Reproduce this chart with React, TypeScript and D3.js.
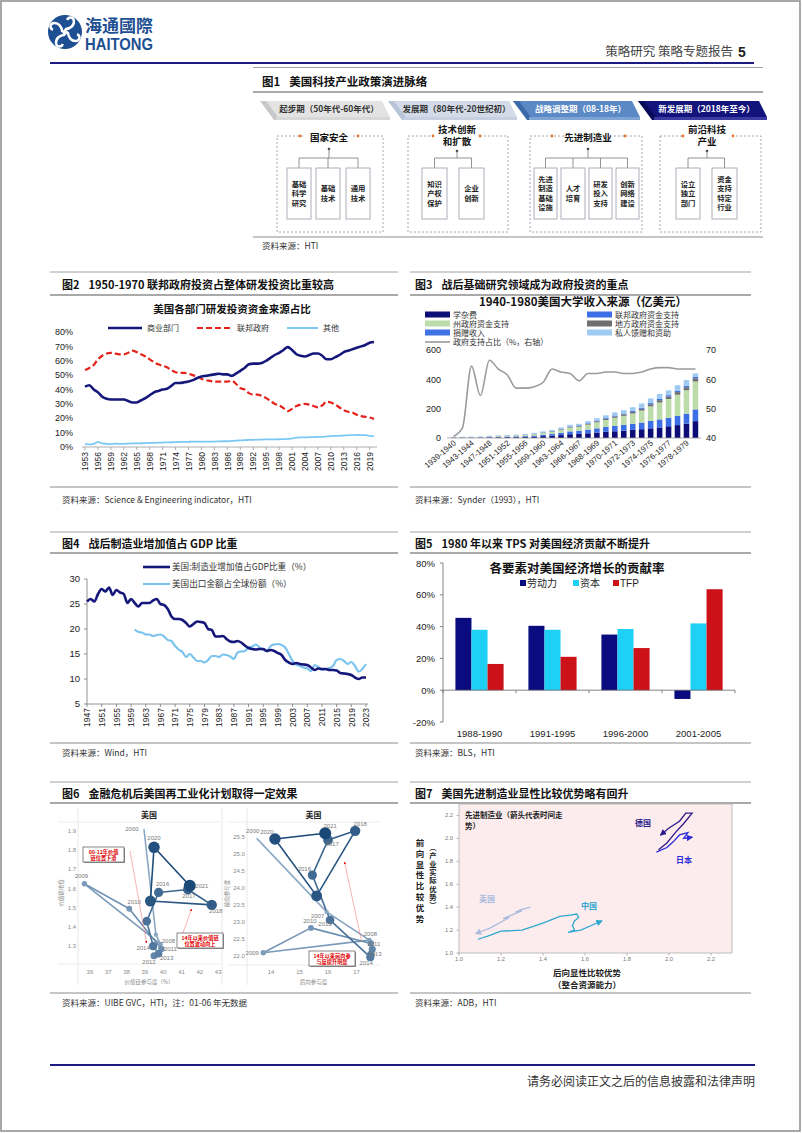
import React from 'react';
import * as d3 from 'd3';

const CN = "'Noto Sans CJK SC', 'Noto Sans', sans-serif";
const AR = "'Liberation Sans', Arial, sans-serif";
const NAVY = '#15187a';

// ---------------- Figure 1 ----------------
const fig1Phases = ['起步期（50年代-60年代）', '发展期（80年代-20世纪初）', '战略调整期（08-18年）', '新发展期（2018年至今）'];
const fig1Heads = [['国家安全'], ['技术创新', '和扩散'], ['先进制造业'], ['前沿科技', '产业']];
const fig1Items = [
  [['基础', '科学', '研究'], ['基础', '技术'], ['通用', '技术']],
  [['知识', '产权', '保护'], ['企业', '创新']],
  [['先进', '制造', '基础', '设施'], ['人才', '培育'], ['研发', '投入', '支持'], ['创新', '网络', '建设']],
  [['设立', '独立', '部门'], ['资金', '支持', '特定', '行业']],
];

// ---------------- Figure 2 ----------------
const fig2Start = 1953;
const fig2Business = [
  42, 43, 40, 38, 35, 33.5, 33,
  33, 33, 33, 32, 31, 31, 32.5, 34, 36, 38,
  39, 40, 40.5, 42.5, 44.5, 44.5, 45, 45.5, 46.5, 48,
  49, 49.5, 50, 50.5, 51, 50.5, 50.5, 49.5, 51, 53,
  55, 57.5, 58, 58, 58.5, 60, 62, 64, 65.5, 67.5,
  69.5, 67.5, 64.5, 63.5, 63, 64, 65, 65, 63.5, 61,
  61, 62.5, 64, 66, 67, 68, 69, 70, 71, 72.5, 73,
];
const fig2Federal = [
  53.5, 55, 57, 61, 63.5, 65, 65.5,
  65, 64.5, 64.5, 65.5, 67, 66, 64.5, 63, 61, 59,
  57.5, 56.5, 55.5, 53.5, 52, 51.5, 51.5, 51, 50, 49,
  47.5, 46.5, 46, 45.5, 45.5, 45.5, 45.5, 46, 44, 41,
  40, 37.5, 36.5, 36.5, 35.5, 34, 32, 30, 29, 27,
  25, 26.5, 28.5, 29.5, 30, 29.5, 28.5, 27.5, 29, 31.5,
  31, 29.5, 27.5, 25.5, 24.5, 24, 22.5, 21.5, 21, 20.5, 19.5,
];
const fig2Other = [
  2, 1.8, 2.2, 3.5, 2.5, 2.2, 2,
  2.3, 2.2, 2.2, 2.4, 2.5, 2.5, 2.6, 2.7, 2.8, 2.9,
  3, 3.1, 3.2, 3.3, 3.4, 3.5, 3.5, 3.6, 3.7, 3.7,
  3.8, 3.8, 3.8, 3.8, 3.9, 4, 4, 4.2, 4.4, 4.6,
  4.8, 4.9, 5, 5.1, 5.2, 5.3, 5.3, 5.3, 5.4, 5.5,
  5.6, 6, 6.5, 6.7, 6.7, 6.8, 6.9, 7, 7, 7.4,
  7.6, 7.7, 7.8, 8, 8.1, 8.3, 8.4, 8.3, 8.2, 7.8, 7.5,
];

// ---------------- Figure 3 ----------------
const fig3Cats = [
  '1939-1940', '1941-1942', '1943-1944', '1945-1946', '1947-1948', '1949-1950', '1951-1952',
  '1953-1954', '1955-1956', '1957-1958', '1959-1960', '1961-1962', '1963-1964', '1965-1966',
  '1966-1967', '1967-1968', '1968-1969', '1969-1970', '1970-1971', '1971-1972', '1972-1973',
  '1973-1974', '1974-1975', '1975-1976', '1976-1977', '1977-1978', '1978-1979', '1979-1980',
];
const fig3Tuition = [2, 2, 2, 3, 4, 5, 6, 6, 8, 10, 13, 16, 20, 26, 28, 32, 37, 42, 46, 50, 55, 60, 66, 72, 80, 88, 98, 115];
const fig3Federal = [1, 1, 2, 2, 3, 3, 4, 5, 5, 7, 9, 11, 15, 19, 21, 25, 29, 33, 36, 39, 42, 45, 50, 55, 58, 62, 68, 80];
const fig3State = [2, 2, 2, 2, 4, 5, 5, 6, 8, 10, 13, 16, 21, 26, 28, 34, 41, 48, 56, 62, 70, 82, 100, 115, 128, 145, 160, 190];
const fig3Local = [0, 0, 0, 0, 1, 1, 1, 1, 1, 2, 2, 3, 4, 5, 5, 6, 7, 8, 9, 10, 11, 12, 14, 16, 17, 18, 20, 22];
const fig3Endow = [1, 1, 1, 1, 1, 1, 1, 1, 2, 2, 2, 2, 3, 3, 4, 4, 5, 5, 6, 6, 7, 7, 8, 8, 9, 10, 10, 11];
const fig3Private = [1, 2, 2, 2, 2, 3, 3, 3, 3, 4, 6, 7, 9, 11, 11, 14, 16, 19, 22, 23, 25, 29, 32, 34, 33, 37, 39, 22];
const fig3GovShare = [40.5, 43.5, 64.5, 54.5, 66.5, 63.5, 61.5, 57, 57, 57.5, 59, 63.5, 62.5, 62, 59.5, 62, 62, 62.5, 62.5, 62, 62, 62.5, 63.5, 64, 64, 63.5, 63.5, 63.5];
const fig3Keys = ['tuition', 'federal', 'state', 'local', 'endow', 'private'];
const fig3Names = ['学杂费', '联邦政府资金支持', '州政府资金支持', '地方政府资金支持', '捐赠收入', '私人馈赠和资助'];
const fig3Colors = ['#0d0d78', '#3c6fe6', '#bcdcaa', '#6f6f6f', '#3f72e2', '#9fcbf3'];

// ---------------- Figure 4 ----------------
const fig4Start = 1947;
const fig4Mfg = [
  25.5, 26, 25.5,
  27, 28, 27.5, 28.3, 26.8, 27.8, 27.3, 27, 25.2, 26,
  25.2, 24.5, 25.2, 25.2, 25.2, 25.7, 26, 25, 24.8, 24,
  22.5, 22, 22, 21.8, 21.2, 20.5, 21, 21.5, 21.4, 21.2,
  20, 19.8, 18.5, 18.5, 18.6, 18, 17.5, 17.4, 17.6, 17.3,
  16.7, 16.2, 16, 15.9, 16, 16, 15.6, 15.8, 15.6, 15.2,
  14.8, 13.8, 13.3, 13, 13.2, 13, 12.9, 12.8, 12.3, 11.8,
  12.1, 12, 12, 11.8, 11.8, 11.7, 11.2, 11.1, 11, 10.8,
  10.3, 10, 10.3, 10.3,
];
const fig4ExportStart = 1960;
const fig4Export = [
  19.9, 19.4, 19.3, 18.9, 18.9, 18.6, 18.8, 18.9, 18.5, 17.8,
  17.6, 16.6, 15.9, 15.4, 14.4, 15, 14.3, 13.6, 13.6, 13.3,
  13.8, 14.6, 14.6, 14.4, 14.9, 14.8, 14.5, 14, 15.3, 15.5,
  15.6, 16.3, 16.5, 16.9, 16.3, 15.8, 15.6, 16.6, 16.9, 17,
  16.8, 16.3, 15, 13.6, 12.9, 12.6, 12.3, 12.1, 11.6, 12.8,
  12.4, 11.8, 12, 12.2, 12.6, 13.8, 14, 13.6, 13, 13.4,
  12.6, 11.5, 12, 13,
];

// ---------------- Figure 5 ----------------
const fig5Periods = ['1988-1990', '1991-1995', '1996-2000', '2001-2005'];
const fig5Labor = [45.5, 40.5, 35, -5.5];
const fig5Capital = [38, 38, 38.5, 42];
const fig5TFP = [16.5, 21, 26.5, 63.5];
const fig5Names = ['劳动力', '资本', 'TFP'];
const fig5Colors = ['#0b0b80', '#1fd0f5', '#cc1218'];

// ---------------- Figure 6 ----------------
const fig6Years = [2000, 2007, 2008, 2009, 2010, 2011, 2012, 2013, 2014, 2015, 2016, 2017, 2018, 2019, 2020, 2021];
const fig6LeftX = [38.95, 39.6, 39.85, 35.7, 38.15, 39.9, 39.5, 39.75, 39.45, 39.1, 39.75, 41.35, 42.65, 39.3, 39.5, 41.45];
const fig6LeftY = [1.91, 1.36, 1.31, 1.625, 1.495, 1.285, 1.25, 1.26, 1.30, 1.43, 1.58, 1.595, 1.515, 1.535, 1.815, 1.615];
const fig6RightX = [13.5, 15.95, 17.45, 13.73, 15.4, 17.5, 17.55, 17.5, 17.48, 16.07, 15.45, 16.0, 16.95, 15.6, 14.14, 15.9];
const fig6RightY = [25.46, 23.3, 22.47, 22.1, 22.83, 22.37, 22.2, 22.05, 21.97, 23.06, 24.38, 25.41, 25.68, 23.77, 25.44, 25.61];
const fig6LeftLabeled = [2000, 2008, 2009, 2010, 2011, 2012, 2013, 2014, 2016, 2017, 2018, 2020, 2021];
const fig6RightLabeled = [2000, 2007, 2008, 2009, 2010, 2011, 2013, 2014, 2015, 2016, 2017, 2018, 2020, 2021];

// ---------------- Figure 7 ----------------
const fig7US = [[1.34, 1.40], [1.30, 1.38], [1.27, 1.36], [1.30, 1.37], [1.25, 1.33], [1.21, 1.30], [1.24, 1.31], [1.15, 1.22], [1.08, 1.17]];
const fig7China = [[1.09, 1.12], [1.14, 1.15], [1.2, 1.19], [1.3, 1.2], [1.4, 1.26], [1.48, 1.32], [1.53, 1.33], [1.56, 1.34], [1.57, 1.31], [1.55, 1.28], [1.54, 1.24], [1.55, 1.2], [1.52, 1.18], [1.58, 1.2], [1.63, 1.24], [1.68, 1.28]];
const fig7Germany = [[1.95, 1.90], [1.99, 1.96], [2.03, 2.05], [2.07, 2.13], [2.11, 2.22], [2.08, 2.22], [2.05, 2.15], [2.0, 2.09], [1.96, 2.03]];
const fig7Japan = [[1.94, 1.88], [1.99, 1.92], [2.02, 1.97], [2.05, 2.03], [2.09, 2.05], [2.07, 2.0], [2.11, 2.01]];
const fig7Ticks = [1.0, 1.2, 1.4, 1.6, 1.8, 2.0, 2.2];

// ============ components ============
function Frame({ x0, x1, top, title, titleNo, titleY, under, bottom, source, sourceY, tx, size = 11 }: any) {
  return (
    <g>
      <line x1={x0} x2={x1} y1={top} y2={top} stroke="#a0a0a0" strokeWidth={1} />
      <text x={tx} y={titleY} fontFamily={CN} fontWeight={700} fontSize={size} fill="#111">
        {titleNo}
        <tspan dx={9}>{title}</tspan>
      </text>
      <line x1={x0} x2={x1} y1={under} y2={under} stroke="#8c8c8c" strokeWidth={1.6} />
      <line x1={x0} x2={x1} y1={bottom} y2={bottom} stroke="#8c8c8c" strokeWidth={1.2} />
      <text x={tx} y={sourceY} fontFamily={CN} fontSize={8.5} fill="#333">{source}</text>
    </g>
  );
}

function Header() {
  const arms = [0, 90, 180, 270];
  return (
    <g>
      <g transform="translate(65,32)">
        <circle r={17} fill="#1d4f92" />
        {arms.map((a) => (
          <g key={a} transform={`rotate(${a})`}>
            <path d="M0,-2.8 C5.5,-3.2 9.8,-6.5 8.8,-12 C7.8,-15.3 3.3,-15.3 2.2,-12" fill="none" stroke="#fff" strokeWidth={2.5} />
          </g>
        ))}
        <rect x={-2.4} y={-2.4} width={4.8} height={4.8} fill="#fff" transform="rotate(45)" />
      </g>
      <text x={85} y={32} fontFamily={CN} fontWeight={700} fontSize={17} fill="#1d4f92">海通國際</text>
      <text x={85} y={50} fontFamily={AR} fontWeight={700} fontSize={16.5} fill="#1d4f92" textLength={68} lengthAdjust="spacingAndGlyphs">HAITONG</text>
      <text x={733} y={56} textAnchor="end" fontFamily={CN} fontSize={12.5} fill="#444">策略研究 策略专题报告</text>
      <text x={738} y={57} fontFamily={AR} fontWeight={700} fontSize={14} fill="#222">5</text>
      <line x1={50} x2={754} y1={63} y2={63} stroke="#1b1b82" strokeWidth={2.2} />
    </g>
  );
}

function Footer() {
  return (
    <g>
      <line x1={50} x2={755} y1={1065} y2={1065} stroke="#1b1b82" strokeWidth={2.2} />
      <text x={755} y={1086} textAnchor="end" fontFamily={CN} fontSize={12} fill="#333">请务必阅读正文之后的信息披露和法律声明</text>
    </g>
  );
}

function Fig1() {
  const banners = [[260, 390], [388, 517], [513, 640], [638, 767]];
  const fills = ['#e3e3e3', '#d3dbe8', '#5b89c6', '#13137c'];
  const stripes = ['#c8c8c8', '#b8c4d8', '#3c6aa8', '#0a0a5a'];
  const under = ['#d8d8d8', '#c6d0e0', '#7fa4d4', '#3a3aa0'];
  const txtCol = ['#333', '#333', '#fff', '#fff'];
  const boxes = [[277, 383], [408, 508], [530, 642], [660, 761]];
  const centers = [329, 457, 588, 707];
  const subs = [
    [[287, 311], [316, 340], [346, 370]],
    [[422, 447], [459, 484]],
    [[534, 557], [561, 585], [589, 612], [616, 639]],
    [[676, 700], [712, 737]],
  ];
  const dots = [[300, 358], [433, 480], [552, 625], [683, 733]];
  const y0 = 101, y1 = 117;
  return (
    <g>
      {banners.map(([a, b], i) => (
        <g key={i}>
          <polygon points={`${a},${y0} ${b - 8},${y0} ${b},${y1} ${a + 14},${y1}`} fill={fills[i]} />
          <polygon points={`${a},${y0} ${a + 6},${y0} ${a + 20},${y1 + 3} ${a + 14},${y1 + 3}`} fill={stripes[i]} />
          <rect x={a + 16} y={y1} width={b - a - 16} height={3} fill={under[i]} />
          <text x={(a + b) / 2 + 4} y={y0 + 11} textAnchor="middle" fontFamily={CN} fontWeight={700} fontSize={8.5} fill={txtCol[i]}>{fig1Phases[i]}</text>
        </g>
      ))}
      {boxes.map(([a, b], i) => {
        const heads = fig1Heads[i];
        const cx = centers[i];
        const dotY = heads.length > 1 ? 151 : 149;
        const s = subs[i];
        return (
          <g key={'b' + i}>
            <rect x={a} y={136} width={b - a} height={96} fill="none" stroke="#8d8da0" strokeWidth={0.8} strokeDasharray="2,2" />
            <rect x={cx - 24} y={heads.length > 1 ? 124 : 131} width={48} height={heads.length > 1 ? 22 : 11} fill="#fff" />
            {heads.map((h, k) => (
              <text key={k} x={cx} y={(heads.length > 1 ? 133 + k * 12 : 140.5)} textAnchor="middle" fontFamily={CN} fontWeight={700} fontSize={9.5} fill="#111">{h}</text>
            ))}
            {dots[i].map((dx, k) => (
              <circle key={k} cx={dx} cy={136} r={1.4} fill="#e8772e" />
            ))}
            <circle cx={cx} cy={dotY} r={1.3} fill="#444" />
            <line x1={cx} x2={cx} y1={dotY} y2={158} stroke="#777" strokeWidth={0.8} />
            <line x1={(s[0][0] + s[0][1]) / 2} x2={(s[s.length - 1][0] + s[s.length - 1][1]) / 2} y1={158} y2={158} stroke="#777" strokeWidth={0.8} />
            {s.map(([sa, sb], k) => {
              const rows = fig1Items[i][k];
              const mid = (sa + sb) / 2;
              return (
                <g key={k}>
                  <line x1={mid} x2={mid} y1={158} y2={168} stroke="#777" strokeWidth={0.8} />
                  <rect x={sa} y={168} width={sb - sa} height={51} fill="#fff" stroke="#9a9aa8" strokeWidth={0.8} />
                  {rows.map((r, ri) => (
                    <text key={ri} x={mid} y={193.5 + (ri - (rows.length - 1) / 2) * 9.5 + 2.6} textAnchor="middle" fontFamily={CN} fontWeight={700} fontSize={7.3} fill="#222">{r}</text>
                  ))}
                </g>
              );
            })}
          </g>
        );
      })}
    </g>
  );
}

function Fig2() {
  const x = d3.scaleLinear().domain([1953, 2020]).range([85, 374]);
  const y = d3.scaleLinear().domain([0, 80]).range([447, 332]);
  const mk = (vals: number[]) =>
    d3.line<number>().x((_, i) => x(fig2Start + i)).y((v) => y(v)).curve(d3.curveMonotoneX)(vals) as string;
  const yTicks = d3.range(0, 81, 10);
  const xTicks = d3.range(1953, 2020, 3);
  return (
    <g>
      <text x={232} y={313} textAnchor="middle" fontFamily={CN} fontWeight={700} fontSize={10.5} fill="#111">美国各部门研发投资资金来源占比</text>
      <line x1={108} x2={142} y1={328} y2={328} stroke={NAVY} strokeWidth={2.6} />
      <text x={147} y={331} fontFamily={CN} fontSize={8} fill="#333">商业部门</text>
      <line x1={197} x2={232} y1={328} y2={328} stroke="#e3231c" strokeWidth={2.2} strokeDasharray="6,3" />
      <text x={237} y={331} fontFamily={CN} fontSize={8} fill="#333">联邦政府</text>
      <line x1={287} x2={318} y1={328} y2={328} stroke="#7cc8f4" strokeWidth={2} />
      <text x={323} y={331} fontFamily={CN} fontSize={8} fill="#333">其他</text>
      {yTicks.map((t) => (
        <text key={t} x={73} y={y(t) + 3.2} textAnchor="end" fontFamily={AR} fontSize={9} fill="#222">{t}%</text>
      ))}
      <line x1={82} x2={377} y1={y(0)} y2={y(0)} stroke="#999" strokeWidth={0.8} />
      {xTicks.map((t) => (
        <g key={t}>
          <line x1={x(t)} x2={x(t)} y1={y(0)} y2={y(0) + 3} stroke="#999" strokeWidth={0.8} />
          <text transform={`translate(${x(t) + 3.2},${y(0) + 5}) rotate(-90)`} textAnchor="end" fontFamily={AR} fontSize={8.5} fill="#222">{t}</text>
        </g>
      ))}
      <path d={mk(fig2Other)} fill="none" stroke="#7cc8f4" strokeWidth={1.8} />
      <path d={mk(fig2Federal)} fill="none" stroke="#e3231c" strokeWidth={2.2} strokeDasharray="6,3" />
      <path d={mk(fig2Business)} fill="none" stroke={NAVY} strokeWidth={2.6} />
    </g>
  );
}

function Fig3() {
  const x = d3.scaleBand<string>().domain(fig3Cats).range([449, 700]).paddingInner(0.38).paddingOuter(0.2);
  const yL = d3.scaleLinear().domain([0, 600]).range([438, 350]);
  const yR = d3.scaleLinear().domain([40, 70]).range([438, 350]);
  const cols = [fig3Tuition, fig3Federal, fig3State, fig3Local, fig3Endow, fig3Private];
  const rows = fig3Cats.map((c, i) => {
    const r: any = { cat: c };
    fig3Keys.forEach((k, j) => (r[k] = cols[j][i]));
    return r;
  });
  const series = d3.stack().keys(fig3Keys)(rows as any);
  const line = d3
    .line<number>()
    .x((_, i) => (x(fig3Cats[i]) as number) + x.bandwidth() / 2)
    .y((v) => yR(v))
    .curve(d3.curveMonotoneX)(fig3GovShare) as string;
  const legendPos = [[425, 315], [587, 315], [425, 324], [587, 324], [425, 333], [587, 333]];
  return (
    <g>
      <text x={583} y={306} textAnchor="middle" fontFamily={CN} fontWeight={700} fontSize={11.5} fill="#111">1940-1980美国大学收入来源（亿美元）</text>
      {fig3Names.map((n, i) => (
        <g key={n}>
          <rect x={legendPos[i][0]} y={legendPos[i][1] - 3.5} width={25} height={6} fill={fig3Colors[i]} />
          <text x={legendPos[i][0] + 28} y={legendPos[i][1] + 2.8} fontFamily={CN} fontSize={8} fill="#333">{n}</text>
        </g>
      ))}
      <line x1={425} x2={450} y1={342} y2={342} stroke="#9a9a9a" strokeWidth={1.6} />
      <text x={453} y={344.8} fontFamily={CN} fontSize={8} fill="#333">政府支持占比（%，右轴）</text>
      {[0, 200, 400, 600].map((t) => (
        <text key={t} x={441} y={yL(t) + 3.3} textAnchor="end" fontFamily={AR} fontSize={9} fill="#222">{t}</text>
      ))}
      {[40, 50, 60, 70].map((t) => (
        <text key={t} x={706} y={yR(t) + 3.3} fontFamily={AR} fontSize={9} fill="#222">{t}</text>
      ))}
      {series.map((s, si) => (
        <g key={si} fill={fig3Colors[si]}>
          {s.map((d: any, i: number) => (
            <rect key={i} x={x(fig3Cats[i])} y={yL(d[1])} width={x.bandwidth()} height={Math.max(0, yL(d[0]) - yL(d[1]))} />
          ))}
        </g>
      ))}
      <line x1={447} x2={701} y1={yL(0)} y2={yL(0)} stroke="#999" strokeWidth={0.8} />
      <path d={line} fill="none" stroke="#9b9b9b" strokeWidth={1.6} />
      {fig3Cats.map((c, i) =>
        i % 2 === 0 ? (
          <text key={c} transform={`translate(${(x(c) as number) + x.bandwidth() / 2 + 3},${yL(0) + 6}) rotate(-40)`} textAnchor="end" fontFamily={AR} fontSize={8} fill="#222">{c}</text>
        ) : null
      )}
    </g>
  );
}

function Fig4() {
  const x = d3.scaleLinear().domain([1947, 2023]).range([87, 366]);
  const y = d3.scaleLinear().domain([5, 30]).range([704, 579]);
  const mk = (vals: number[], start: number) =>
    d3.line<number>().x((_, i) => x(start + i)).y((v) => y(v)).curve(d3.curveMonotoneX)(vals) as string;
  const xTicks = d3.range(1947, 2024, 4);
  return (
    <g>
      <line x1={143} x2={170} y1={567} y2={567} stroke={NAVY} strokeWidth={2.6} />
      <text x={172} y={570} fontFamily={CN} fontSize={8.6} fill="#333">美国:制造业增加值占GDP比重（%）</text>
      <line x1={143} x2={170} y1={584} y2={584} stroke="#7cc4ee" strokeWidth={2.2} />
      <text x={172} y={587} fontFamily={CN} fontSize={8.6} fill="#333">美国出口金额占全球份额（%）</text>
      <line x1={87} x2={87} y1={579} y2={704} stroke="#777" strokeWidth={0.8} />
      {[5, 10, 15, 20, 25, 30].map((t) => (
        <g key={t}>
          <line x1={84} x2={87} y1={y(t)} y2={y(t)} stroke="#777" strokeWidth={0.8} />
          <text x={80} y={y(t) + 3.3} textAnchor="end" fontFamily={AR} fontSize={9.5} fill="#222">{t}</text>
        </g>
      ))}
      <line x1={87} x2={368} y1={704} y2={704} stroke="#777" strokeWidth={0.8} />
      {xTicks.map((t) => (
        <g key={t}>
          <line x1={x(t)} x2={x(t)} y1={704} y2={707} stroke="#777" strokeWidth={0.8} />
          <text transform={`translate(${x(t) + 3.2},${708}) rotate(-90)`} textAnchor="end" fontFamily={AR} fontSize={8.5} fill="#222">{t}</text>
        </g>
      ))}
      <path d={mk(fig4Export, fig4ExportStart)} fill="none" stroke="#7cc4ee" strokeWidth={2.2} />
      <path d={mk(fig4Mfg, fig4Start)} fill="none" stroke={NAVY} strokeWidth={2.6} />
    </g>
  );
}

function Fig5() {
  const x = d3.scaleBand<string>().domain(fig5Periods).range([443, 735]).paddingInner(0.34).paddingOuter(0.17);
  const inner = d3.scaleBand<string>().domain(fig5Names).range([0, x.bandwidth()]);
  const y = d3.scaleLinear().domain([-20, 80]).range([722, 563]);
  const vals = [fig5Labor, fig5Capital, fig5TFP];
  const bounds = d3.range(0, fig5Periods.length + 1).map((i) => 443 + (i * 292) / fig5Periods.length);
  return (
    <g>
      <text x={577} y={573} textAnchor="middle" fontFamily={CN} fontWeight={700} fontSize={12.5} fill="#111">各要素对美国经济增长的贡献率</text>
      {fig5Names.map((n, i) => {
        const lx = [520, 573, 613][i];
        return (
          <g key={n}>
            <rect x={lx} y={580} width={6} height={6} fill={fig5Colors[i]} />
            <text x={lx + 7} y={587} fontFamily={i === 2 ? AR : CN} fontSize={10} fill="#222">{n}</text>
          </g>
        );
      })}
      {vals.map((arr, si) =>
        arr.map((v, i) => (
          <rect key={si + '-' + i} x={(x(fig5Periods[i]) as number) + (inner(fig5Names[si]) as number)} y={y(Math.max(0, v))} width={inner.bandwidth()} height={Math.abs(y(v) - y(0))} fill={fig5Colors[si]} />
        ))
      )}
      <line x1={443} x2={443} y1={563} y2={722} stroke="#666" strokeWidth={0.8} />
      {[-20, 0, 20, 40, 60, 80].map((t) => (
        <g key={t}>
          <line x1={440} x2={443} y1={y(t)} y2={y(t)} stroke="#666" strokeWidth={0.8} />
          <text x={435} y={y(t) + 3.5} textAnchor="end" fontFamily={AR} fontSize={9.5} fill="#222">{t}%</text>
        </g>
      ))}
      <line x1={443} x2={735} y1={y(0)} y2={y(0)} stroke="#666" strokeWidth={0.8} />
      {bounds.map((b, i) => (
        <line key={i} x1={b} x2={b} y1={y(0)} y2={y(0) + 3} stroke="#666" strokeWidth={0.8} />
      ))}
      {fig5Periods.map((p) => (
        <text key={p} x={(x(p) as number) + x.bandwidth() / 2} y={737} textAnchor="middle" fontFamily={AR} fontSize={9.5} fill="#222">{p}</text>
      ))}
    </g>
  );
}

const leftOff: any = {
  2000: [-12, 2], 2008: [8, -1], 2009: [-3, -6], 2010: [5, -5], 2011: [9, 2], 2012: [-5, 8], 2013: [8, 6], 2014: [-10, 4],
  2016: [4, -6], 2017: [1, 8], 2018: [4, 8], 2020: [0, -7], 2021: [12, 2],
};
const rightOff: any = {
  2000: [-4, -5], 2007: [-9, 6], 2008: [1, -4], 2009: [-11, 2], 2010: [-1, -5], 2011: [3, 2], 2013: [4, 2], 2014: [-4, 8],
  2015: [-5, 6], 2016: [-8, -4], 2017: [4, 6], 2018: [5, -5], 2020: [-8, -5], 2021: [5, -5],
};

function Scatter({ xs, ys, labeled, offs, xDom, yDom, xr, yr, xTicks, yTicks, title, xTitle, yTitle, yTitleX, tickX, frameX }: any) {
  const x = d3.scaleLinear().domain(xDom).range(xr);
  const y = d3.scaleLinear().domain(yDom).range(yr);
  const col = d3.scaleLinear<string>().domain([2000, 2021]).range(['#c3d9ec', '#1a4877']).interpolate(d3.interpolateRgb);
  const rad = d3.scaleLinear().domain([2000, 2008, 2021]).range([0.8, 2.4, 6]);
  const pts = fig6Years.map((yr_: number, i: number) => ({ yr: yr_, px: x(xs[i]), py: y(ys[i]) }));
  return (
    <g>
      <line x1={frameX} x2={frameX} y1={808} y2={985} stroke="#e2e2e2" strokeWidth={0.8} />
      <line x1={xr[0] - 20} x2={xr[1]} y1={yr[1]} y2={yr[1]} stroke="#e8e8e8" strokeWidth={0.8} />
      <line x1={xr[0] - 20} x2={xr[1]} y1={yr[0]} y2={yr[0]} stroke="#e8e8e8" strokeWidth={0.8} />
      <text x={(xr[0] + xr[1]) / 2} y={818} textAnchor="middle" fontFamily={CN} fontWeight={700} fontSize={8} fill="#222">{title}</text>
      {xTicks.map((t: number) => (
        <text key={t} x={x(t)} y={974} textAnchor="middle" fontFamily={AR} fontSize={6} fill="#8a8a8a">{t}</text>
      ))}
      {yTicks.map((t: number) => (
        <text key={t} x={tickX} y={y(t) + 2} textAnchor="middle" fontFamily={AR} fontSize={6} fill="#8a8a8a">{t.toFixed(1)}</text>
      ))}
      <text x={(xr[0] + xr[1]) / 2} y={984} textAnchor="middle" fontFamily={CN} fontSize={5.5} fill="#888">{xTitle}</text>
      <text transform={`translate(${yTitleX},${(yr[0] + yr[1]) / 2}) rotate(-90)`} textAnchor="middle" fontFamily={CN} fontSize={5.5} fill="#888">{yTitle}</text>
      {pts.slice(1).map((p: any, i: number) => (
        <line key={i} x1={pts[i].px} y1={pts[i].py} x2={p.px} y2={p.py} stroke={col(p.yr)} strokeWidth={1.6} />
      ))}
      {pts.map((p: any) => (
        <circle key={p.yr} cx={p.px} cy={p.py} r={rad(p.yr)} fill={col(p.yr)} />
      ))}
      {pts.filter((p: any) => labeled.includes(p.yr)).map((p: any) => {
        const o = offs[p.yr] || [0, -6];
        return (
          <text key={'l' + p.yr} x={p.px + o[0]} y={p.py + o[1]} textAnchor="middle" fontFamily={AR} fontSize={6} fill="#7a7a7a">{p.yr}</text>
        );
      })}
    </g>
  );
}

function AnnBox({ x, y, w, lines }: any) {
  return (
    <g>
      <rect x={x + 1} y={y + 1} width={w} height={15} fill="#999" />
      <rect x={x} y={y} width={w} height={15} fill="#fff" stroke="#555" strokeWidth={0.7} />
      {lines.map((l: string, i: number) => (
        <text key={i} x={x + w / 2} y={y + 6.5 + i * 6} textAnchor="middle" fontFamily={CN} fontWeight={700} fontSize={5.2} fill="#e00000">{l}</text>
      ))}
    </g>
  );
}

function Fig6() {
  return (
    <g>
      <defs>
        <marker id="redArr" viewBox="0 0 6 6" refX={5} refY={3} markerWidth={4} markerHeight={4} orient="auto">
          <path d="M0,0 L6,3 L0,6 z" fill="#e00000" />
        </marker>
      </defs>
      <line x1={222} x2={222} y1={808} y2={985} stroke="#e2e2e2" strokeWidth={0.8} />
      <Scatter xs={fig6LeftX} ys={fig6LeftY} labeled={fig6LeftLabeled} offs={leftOff} xDom={[35.35, 43.1]} yDom={[1.207, 1.947]} xr={[78, 220]} yr={[964, 822]}
        xTicks={[36, 37, 38, 39, 40, 41, 42, 43]} yTicks={[1.3, 1.4, 1.5, 1.6, 1.7, 1.8, 1.9]}
        title="美国" xTitle="价值链参与度（%）" yTitle="价值链地位" yTitleX={63} tickX={72} frameX={78} />
      <Scatter xs={fig6RightX} ys={fig6RightY} labeled={fig6RightLabeled} offs={rightOff} xDom={[13.16, 17.82]} yDom={[21.74, 25.94]} xr={[247, 380]} yr={[965, 822]}
        xTicks={[14, 15, 16, 17]} yTicks={[22, 22.5, 23, 23.5, 24, 24.5, 25, 25.5]}
        title="美国" xTitle="后向参与度" yTitle="前向参与度" yTitleX={229} tickX={239} frameX={247} />
      <line x1={130} y1={851} x2={146.5} y2={943} stroke="#f08080" strokeWidth={0.6} markerEnd="url(#redArr)" />
      <line x1={178} y1={947} x2={191.5} y2={909} stroke="#f08080" strokeWidth={0.6} markerEnd="url(#redArr)" />
      <line x1={361.5} y1={941} x2={344.5} y2={862} stroke="#f08080" strokeWidth={0.6} markerEnd="url(#redArr)" />
      <AnnBox x={83} y={847} w={41} lines={['00-12年价值', '链位置下滑']} />
      <AnnBox x={177} y={933} w={46} lines={['14年以来价值链', '位置波动向上']} />
      <AnnBox x={309} y={951} w={46} lines={['14年以来前向参', '与度提升明显']} />
    </g>
  );
}

function Fig7() {
  const x = d3.scaleLinear().domain([1.0, 2.3]).range([459, 732]);
  const y = d3.scaleLinear().domain([1.0, 2.3]).range([953, 804]);
  const line = d3.line<number[]>().x((d) => x(d[0])).y((d) => y(d[1]));
  const ser = [
    { d: fig7US, c: '#aabbdd', id: 'a7us' },
    { d: fig7China, c: '#2ea8cf', id: 'a7cn' },
    { d: fig7Germany, c: '#2d1a8a', id: 'a7de' },
    { d: fig7Japan, c: '#2a2ad8', id: 'a7jp' },
  ];
  const colA = '前向显性比较优势'.split('');
  const colB = '︵产业实际优势︶'.split('');
  return (
    <g>
      <defs>
        {ser.map((s) => (
          <marker key={s.id} id={s.id} viewBox="0 0 6 6" refX={5} refY={3} markerWidth={5} markerHeight={5} orient="auto">
            <path d="M0,0 L6,3 L0,6 z" fill={s.c} />
          </marker>
        ))}
      </defs>
      <rect x={459} y={804} width={273} height={149} fill="#fcecee" stroke="#b0b0b0" strokeWidth={0.8} />
      {fig7Ticks.map((t) => (
        <g key={t}>
          <line x1={x(t)} x2={x(t)} y1={953} y2={955.5} stroke="#888" strokeWidth={0.6} />
          <text x={x(t)} y={961} textAnchor="middle" fontFamily={AR} fontSize={5.8} fill="#777">{t.toFixed(1)}</text>
          <line x1={456.5} x2={459} y1={y(t)} y2={y(t)} stroke="#888" strokeWidth={0.6} />
          <text x={453} y={y(t) + 2} textAnchor="end" fontFamily={AR} fontSize={5.8} fill="#777">{t.toFixed(1)}</text>
        </g>
      ))}
      {ser.map((s) => (
        <path key={s.id} d={line(s.d as any) as string} fill="none" stroke={s.c} strokeWidth={1.3} markerEnd={`url(#${s.id})`} />
      ))}
      <text x={465} y={818} fontFamily={CN} fontWeight={700} fontSize={7.5} fill="#222">先进制造业（箭头代表时间走</text>
      <text x={465} y={829} fontFamily={CN} fontWeight={700} fontSize={7.5} fill="#222">势）</text>
      <text x={643} y={826} textAnchor="middle" fontFamily={CN} fontWeight={700} fontSize={8} fill="#2d1a8a">德国</text>
      <text x={684} y={863} textAnchor="middle" fontFamily={CN} fontWeight={700} fontSize={8} fill="#2a2ad8">日本</text>
      <text x={487} y={902} textAnchor="middle" fontFamily={CN} fontWeight={700} fontSize={8} fill="#aabbdd">美国</text>
      <text x={589} y={909} textAnchor="middle" fontFamily={CN} fontWeight={700} fontSize={8} fill="#2ea8cf">中国</text>
      <text x={587} y={976} textAnchor="middle" fontFamily={CN} fontWeight={700} fontSize={8.5} fill="#222">后向显性比较优势</text>
      <text x={587} y={988} textAnchor="middle" fontFamily={CN} fontWeight={700} fontSize={8.5} fill="#222">（整合资源能力）</text>
      {colA.map((c, i) => (
        <text key={'a' + i} x={420} y={846 + i * 10.8} textAnchor="middle" fontFamily={CN} fontWeight={700} fontSize={8.5} fill="#222">{c}</text>
      ))}
      {colB.map((c, i) => (
        <text key={'b' + i} x={433} y={850 + i * 8.3} textAnchor="middle" fontFamily={CN} fontWeight={700} fontSize={7.3} fill="#222">{c}</text>
      ))}
    </g>
  );
}

export default function App() {
  return (
    <svg width={802} height={1133} viewBox="0 0 802 1133" style={{ position: 'absolute', left: 0, top: 0, background: '#fff' }}>
      <rect x={0} y={0} width={802} height={1133} fill="#fff" />
      <rect x={1} y={1} width={799} height={1130} fill="none" stroke="#8c8c8c" strokeWidth={1.5} />
      <Header />
      <Frame x0={253} x1={763} top={67.5} titleNo="图1" title="美国科技产业政策演进脉络" titleY={86} under={92} bottom={237} source="资料来源：HTI" sourceY={249} tx={262} size={11.5} />
      <Fig1 />
      <Frame x0={50} x1={398} top={272} titleNo="图2" title="1950-1970 联邦政府投资占整体研发投资比重较高" titleY={289} under={295} bottom={487} source="资料来源：Science & Engineering indicator，HTI" sourceY={503} tx={62} />
      <Fig2 />
      <Frame x0={410} x1={751} top={272} titleNo="图3" title="战后基础研究领域成为政府投资的重点" titleY={289} under={295} bottom={487} source="资料来源：Synder（1993），HTI" sourceY={503} tx={415} />
      <Fig3 />
      <Frame x0={50} x1={398} top={532} titleNo="图4" title="战后制造业增加值占 GDP 比重" titleY={548} under={553} bottom={743} source="资料来源：Wind，HTI" sourceY={756} tx={62} />
      <Fig4 />
      <Frame x0={410} x1={751} top={532} titleNo="图5" title="1980 年以来 TPS 对美国经济贡献不断提升" titleY={548} under={553} bottom={743} source="资料来源：BLS，HTI" sourceY={756} tx={415} />
      <Fig5 />
      <Frame x0={50} x1={398} top={782} titleNo="图6" title="金融危机后美国再工业化计划取得一定效果" titleY={797.5} under={803} bottom={993} source="资料来源：UIBE GVC，HTI，注：01-06 年无数据" sourceY={1006} tx={62} />
      <Fig6 />
      <Frame x0={410} x1={751} top={782} titleNo="图7" title="美国先进制造业显性比较优势略有回升" titleY={797.5} under={803} bottom={993} source="资料来源：ADB，HTI" sourceY={1006} tx={415} />
      <Fig7 />
      <Footer />
    </svg>
  );
}
